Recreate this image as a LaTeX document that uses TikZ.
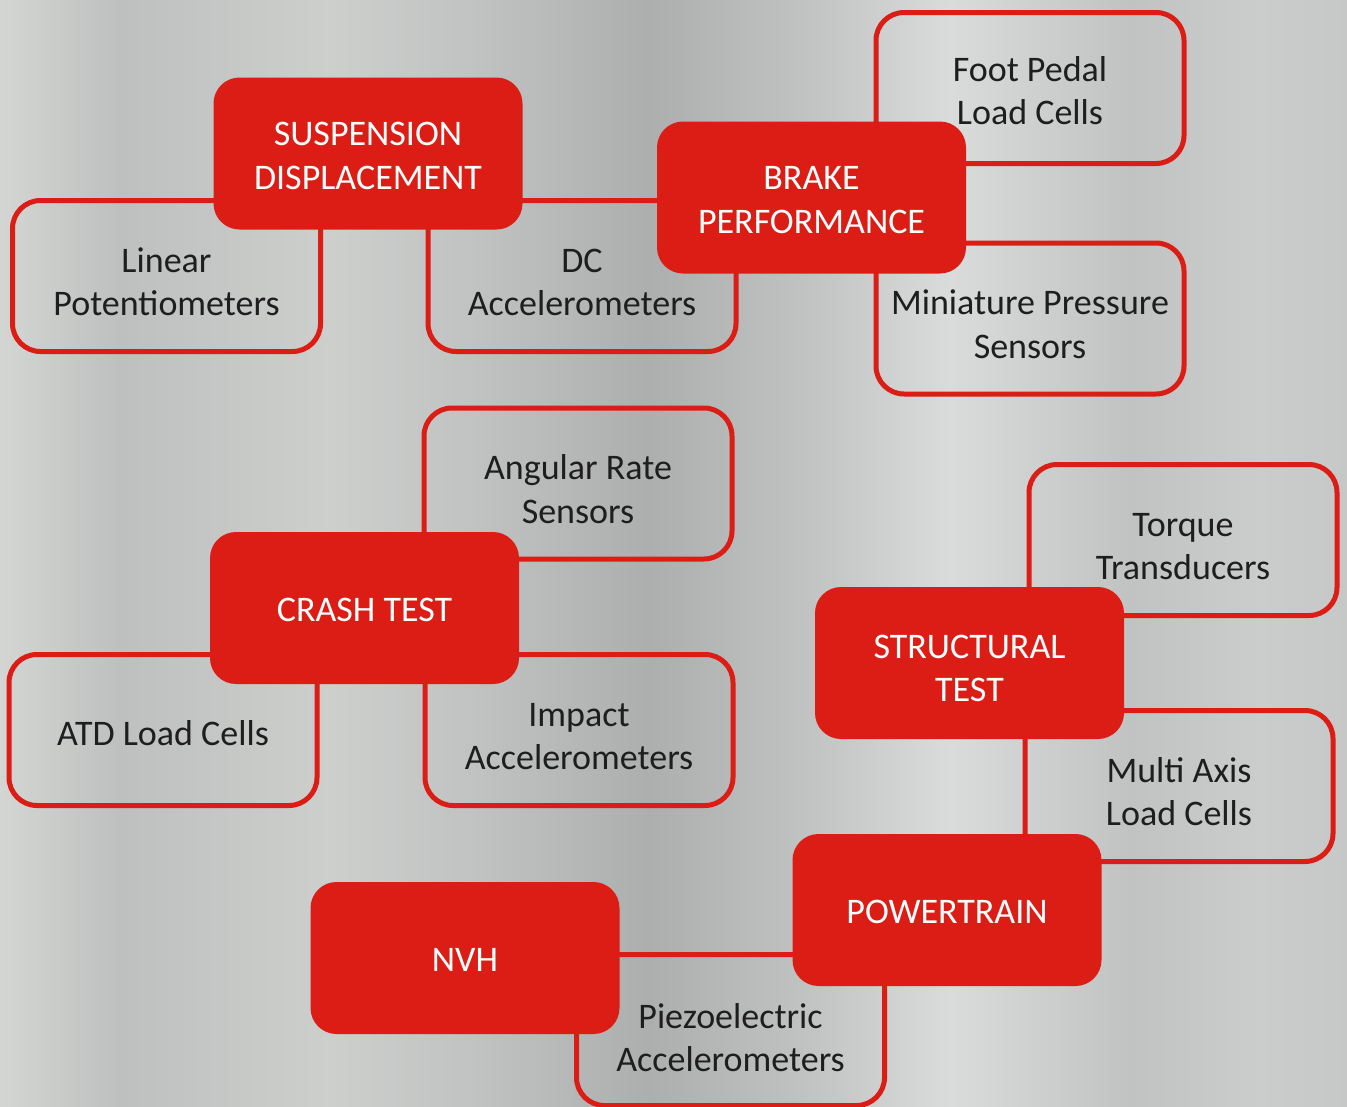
\documentclass[tikz,border=0pt]{standalone}
\usepackage{fontspec}
\setmainfont{Carlito}
\definecolor{brakered}{RGB}{219,29,21}
\definecolor{inkgray}{RGB}{30,30,30}
\definecolor{bg0}{RGB}{212,214,212}
\definecolor{bg1}{RGB}{190,192,191}
\definecolor{bg2}{RGB}{205,207,205}
\definecolor{bg3}{RGB}{193,195,194}
\definecolor{bg4}{RGB}{173,175,174}
\definecolor{bg5}{RGB}{192,194,193}
\definecolor{bg6}{RGB}{218,220,219}
\definecolor{bg7}{RGB}{193,195,194}
\definecolor{bg8}{RGB}{203,205,204}
\definecolor{bg9}{RGB}{198,200,199}
\tikzset{
	group/.style={fill=brakered, text=white, rounded corners=26pt, minimum width=309pt, minimum height=152pt, align=center, font=\fontsize{36}{43.5}\selectfont, execute at begin node=\rule{0pt}{#1}},
	group/.default=72pt,
	sensor/.style={draw=brakered, line width=5pt, rounded corners=28pt, minimum width=308pt, minimum height=151pt, text=inkgray, align=center, font=\fontsize{36}{43.5}\selectfont, execute at begin node=\rule{0pt}{#1}},
	sensor/.default=80pt
}
\begin{document}
\begin{tikzpicture}[x=1pt, y=-1pt]
	\useasboundingbox (0,0) rectangle (1347,1106);
	\foreach \xa/\xb/\ca/\cb in {0/120/bg0/bg1, 120/330/bg1/bg2, 330/470/bg2/bg3, 470/650/bg3/bg4, 650/800/bg4/bg5, 800/950/bg5/bg6, 950/1130/bg6/bg7, 1130/1260/bg7/bg8, 1260/1347/bg8/bg9}
		\shade[left color=\ca, right color=\cb] (\xa-0.5,0) rectangle (\xb+0.5,1106);
	\node[sensor] (linpot) at (166.5,276) {Linear\\Potentiometers};
	\node[sensor] (dcacc) at (582,276) {DC\\Accelerometers};
	\node[sensor=74pt] (pedal) at (1030,88) {Foot Pedal\\Load Cells};
	\node[sensor] (press) at (1030,318.5) {Miniature Pressure\\Sensors};
	\node[sensor] (angrate) at (578,483.5) {Angular Rate\\Sensors};
	\node[sensor=32pt] (atd) at (163,730) {ATD Load Cells};
	\node[sensor] (impact) at (579,730) {Impact\\Accelerometers};
	\node[sensor] (torque) at (1183,540) {Torque\\Transducers};
	\node[sensor] (multiaxis) at (1179,786) {Multi Axis\\Load Cells};
	\node[sensor=84pt] (piezo) at (730.5,1030) {Piezoelectric\\Accelerometers};
	\node[group] (susp) at (368,153.5) {SUSPENSION\\DISPLACEMENT};
	\node[group] (brake) at (811.5,197.5) {BRAKE\\PERFORMANCE};
	\node[group=27pt] (crash) at (364.5,608) {CRASH TEST};
	\node[group=78pt] (struct) at (969.5,663) {STRUCTURAL\\TEST};
	\node[group=27pt] (power) at (947,910) {POWERTRAIN};
	\node[group=27pt] (nvh) at (465,958) {NVH};
\end{tikzpicture}
\end{document}
